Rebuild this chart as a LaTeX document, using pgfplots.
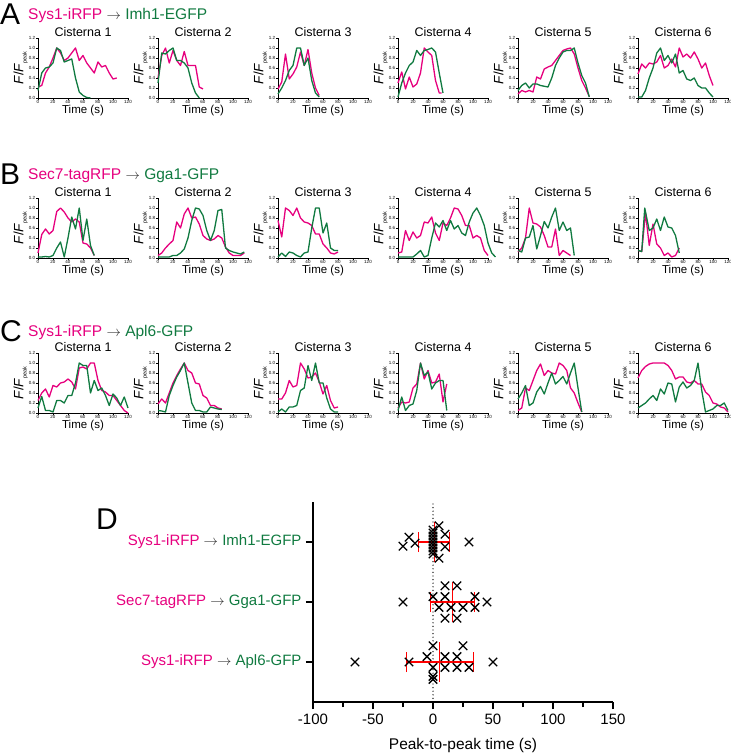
\documentclass[border=0pt]{standalone}
\usepackage{pgfplots}
\pgfplotsset{compat=1.18}
\usepackage{fontspec}
\setmainfont{Liberation Sans}
\definecolor{mag}{RGB}{230,0,126}
\definecolor{grn}{RGB}{16,122,64}
\definecolor{arr}{RGB}{50,50,50}
\newcommand{\fs}[1]{\fontsize{#1}{#1}\selectfont}
\newcommand{\ar}{\textcolor{arr}{$\rightarrow$}}
\pgfplotsset{
 small/.style={
  scale only axis, width=90pt, height=60pt,
  xmin=0, xmax=120, ymin=0, ymax=1.2,
  axis lines=left, axis line style={line width=0.9pt, -},
  xtick={0,20,40,60,80,100,120}, ytick={0,0.2,0.4,0.6,0.8,1.0,1.2},
  tick align=outside, major tick length=1.8pt, tick style={line width=0.5pt, black},
  ticklabel style={font=\fs{4.5}, inner sep=0.8pt},
  yticklabel style={/pgf/number format/.cd, fixed, fixed zerofill, precision=1},
  /pgf/number format/assume math mode=true,
  xlabel={Time (s)},
  every axis x label/.style={at={(rel axis cs:0.5,0)}, anchor=north, yshift=-6.5pt, inner sep=0pt, font=\fs{11.5}},
  ylabel={\textit{F}/\textit{F}\raisebox{-0.45ex}{\fs{5.5}peak}},
  every axis y label/.style={at={(rel axis cs:0,0.5)}, rotate=90, anchor=south, inner sep=0pt, yshift=10pt, font=\fs{13.5}},
  title style={at={(rel axis cs:0.5,1)}, anchor=base, yshift=-5pt, font=\fs{12.5}, inner sep=0pt},
  clip=false, anchor=south west,
 },
 mg/.style={mag, line width=1.3pt, no marks, line join=round},
 gn/.style={grn, line width=1.3pt, no marks, line join=round},
}
\newcommand{\panel}[5]{%
\begin{axis}[small, at={(#1pt,#2pt)}, title={Cisterna #3}]
\addplot[mg] coordinates {#4};
\addplot[gn] coordinates {#5};
\end{axis}}
\begin{document}
\begin{tikzpicture}
\useasboundingbox (0,0) rectangle (731pt,756pt);
% ---------- Row A ----------
\node[anchor=base west, inner sep=0pt, font=\fs{30}] at (0pt,731pt) {A};
\node[anchor=base west, inner sep=0pt, font=\fs{15.5}] at (28pt,736pt) {\textcolor{mag}{Sys1-iRFP} \ar{} \textcolor{grn}{Imh1-EGFP}};
\panel{38}{658}{1}
{(0,0.22)(5,0.25)(10,0.5)(15,0.62)(20,0.8)(25,1.0)(30,0.9)(35,0.75)(40,0.8)(45,0.9)(50,1.0)(55,0.75)(60,0.85)(65,0.7)(70,0.6)(75,0.5)(80,0.72)(85,0.62)(90,0.65)(95,0.5)(100,0.38)(105,0.4)}
{(0,0.15)(5,0.5)(10,0.6)(15,0.62)(20,0.7)(25,1.0)(30,0.95)(35,0.72)(40,0.75)(45,0.78)(50,0.4)(55,0.12)(60,0.05)(65,0.01)(70,0)}
\panel{158}{658}{2}
{(0,0.4)(5,0.85)(10,1.0)(15,0.7)(20,0.95)(25,0.75)(30,0.65)(35,0.93)(40,0.65)(45,0.65)(50,0.65)(55,0.22)(60,0.18)}
{(0,0.3)(5,0.9)(10,0.88)(15,0.95)(20,1.0)(25,0.75)(30,0.75)(35,0.7)(40,0.6)(45,0.3)(50,0.1)(55,0.0)}
\panel{278}{658}{3}
{(0,0.18)(5,0.32)(10,0.88)(15,0.38)(20,0.48)(25,0.62)(30,0.92)(35,0.65)(40,0.97)(45,0.5)(50,0.2)(55,0.05)}
{(0,0.08)(5,0.2)(10,0.35)(15,0.55)(20,0.65)(25,1.0)(30,1.0)(35,0.65)(40,0.8)(45,0.35)(50,0.1)(55,0.02)}
\panel{398}{658}{4}
{(0,0.3)(5,0.52)(10,0.18)(15,0.42)(20,0.22)(25,0.28)(30,0.5)(35,1.0)(40,0.92)(45,0.85)(50,0.35)(55,0.1)(58,0.1)}
{(0,0.02)(5,0.3)(10,0.5)(15,0.65)(20,0.72)(25,0.95)(30,0.85)(35,0.95)(40,0.97)(45,1.0)(50,0.92)(55,0.5)(60,0.1)}
\panel{518}{658}{5}
{(0,0.08)(5,0.15)(10,0.12)(15,0.15)(20,0.12)(25,0.42)(30,0.38)(35,0.58)(40,0.62)(45,0.65)(50,0.75)(55,0.85)(60,0.95)(65,0.98)(70,1.0)(75,0.88)(80,0.6)(85,0.35)(90,0.2)(95,0.03)}
{(0,0.15)(5,0.25)(10,0.3)(15,0.2)(20,0.28)(25,0.28)(30,0.25)(40,0.22)(45,0.4)(50,0.65)(55,0.8)(60,0.92)(65,0.95)(70,0.95)(75,1.0)(80,0.7)(85,0.45)(90,0.3)(95,0.02)}
\panel{638}{658}{6}
{(0,0.48)(5,0.68)(10,0.6)(15,0.7)(20,0.68)(25,0.72)(30,0.85)(35,0.6)(40,0.65)(45,0.78)(50,0.62)(55,1.0)(60,0.82)(65,0.88)(70,0.8)(75,0.92)(80,0.78)(85,0.6)(90,0.7)(95,0.45)(100,0.25)}
{(0,0.02)(5,0.02)(10,0.15)(15,0.4)(20,0.6)(25,0.9)(30,1.0)(35,0.75)(40,0.85)(45,0.7)(50,0.88)(55,0.5)(60,0.55)(65,0.38)(70,0.35)(75,0.4)(80,0.25)(85,0.2)(90,0.2)(95,0.1)(100,0.02)}
% ---------- Row B ----------
\node[anchor=base west, inner sep=0pt, font=\fs{30}] at (0pt,571pt) {B};
\node[anchor=base west, inner sep=0pt, font=\fs{15.5}] at (28pt,576pt) {\textcolor{mag}{Sec7-tagRFP} \ar{} \textcolor{grn}{Gga1-GFP}};
\panel{38}{498}{1}
{(0,0.1)(5,0.47)(10,0.58)(15,0.48)(20,0.55)(25,0.93)(30,1.0)(35,0.92)(40,0.8)(45,0.72)(50,0.78)(55,0.72)(60,0.3)(65,0.28)(70,0.2)(75,0.05)}
{(0,0.02)(5,0.02)(10,0.03)(15,0.02)(20,0.05)(25,0.2)(30,0.32)(35,0.02)(40,0.4)(45,0.82)(50,0.58)(55,1.0)(60,0.35)(65,0.78)(70,0.25)(75,0.05)}
\panel{158}{498}{2}
{(0,0.05)(5,0.1)(10,0.2)(15,0.28)(20,0.35)(25,0.72)(30,0.6)(35,0.88)(40,1.0)(45,0.8)(50,0.82)(55,0.68)(60,0.45)(65,0.38)(70,0.35)(75,0.38)(80,0.45)(85,0.4)(90,0.22)(95,0.1)(100,0.05)(105,0.05)(110,0.05)(115,0.1)}
{(0,0.02)(15,0.02)(20,0.05)(25,0.05)(30,0.1)(35,0.18)(40,0.4)(45,0.75)(50,1.0)(55,0.98)(60,0.85)(65,0.55)(70,0.35)(75,0.55)(80,0.95)(85,0.97)(90,0.2)(95,0.15)(100,0.12)(105,0.1)(110,0.08)(115,0.12)}
\panel{278}{498}{3}
{(0,0.75)(5,0.42)(10,1.0)(15,0.95)(20,0.85)(25,1.0)(30,0.8)(35,0.72)(40,0.7)(45,0.65)(50,0.48)(55,0.48)(60,0.28)(65,0.2)(70,0.1)(75,0.08)(80,0.12)}
{(0,0.02)(5,0.1)(10,0.03)(15,0.12)(20,0.1)(25,0.05)(30,0.02)(35,0.1)(40,0.12)(45,0.6)(50,1.0)(55,1.0)(60,0.5)(65,0.7)(70,0.2)(75,0.15)(80,0.15)}
\panel{398}{498}{4}
{(0,0.1)(5,0.12)(10,0.55)(15,0.35)(20,0.52)(25,0.4)(30,0.45)(35,0.72)(40,0.7)(45,0.82)(50,0.5)(55,0.35)(60,0.7)(65,0.65)(70,0.8)(75,1.0)(80,0.98)(85,0.85)(90,0.65)(95,0.65)(100,0.4)(105,0.45)(110,0.4)(115,0.15)(120,0.05)}
{(0,0.02)(20,0.02)(25,0.08)(30,0.15)(35,0.02)(40,0.05)(45,0.4)(50,0.7)(55,0.62)(60,0.75)(65,0.55)(70,0.75)(75,0.58)(80,0.65)(85,0.5)(90,0.45)(95,0.72)(100,0.9)(105,1.0)(110,0.85)(115,0.65)(120,0.3)(125,0.1)(130,0.02)}
\panel{518}{498}{5}
{(0,0.12)(5,0.2)(10,0.4)(15,1.0)(20,0.7)(25,0.68)(30,0.62)(35,0.45)(40,0.22)(45,0.22)(50,0.58)(55,0.05)(60,0.15)(65,0.1)(70,0.05)}
{(0,0.15)(5,0.12)(10,0.4)(15,0.42)(20,0.65)(25,0.18)(30,0.45)(35,0.73)(40,0.6)(45,0.82)(50,1.0)(55,0.55)(60,0.72)(65,0.55)(70,0.6)(75,0.05)}
\panel{638}{498}{6}
{(0,0.15)(5,0.13)(10,0.9)(15,0.25)(20,0.68)(25,0.28)(30,0.2)(35,0.05)(40,0.1)(45,0.02)(50,0.05)(55,0.2)}
{(0,0.15)(5,0.13)(9,1.0)(15,0.55)(20,0.6)(25,0.78)(30,0.55)(35,0.82)(40,0.62)(45,0.6)(50,0.45)(55,0.1)}
% ---------- Row C ----------
\node[anchor=base west, inner sep=0pt, font=\fs{30}] at (0pt,414pt) {C};
\node[anchor=base west, inner sep=0pt, font=\fs{15.5}] at (28pt,419pt) {\textcolor{mag}{Sys1-iRFP} \ar{} \textcolor{grn}{Apl6-GFP}};
\panel{38}{343}{1}
{(0,0.25)(5,0.4)(10,0.48)(15,0.32)(20,0.55)(25,0.52)(30,0.6)(35,0.62)(40,0.68)(45,0.62)(50,0.48)(55,0.9)(60,0.92)(65,0.88)(70,1.0)(75,1.0)(80,0.65)(85,0.45)(90,0.42)(95,0.35)(100,0.35)(105,0.25)(110,0.15)(115,0.05)(120,0.0)}
{(0,0.1)(5,0.33)(10,0.05)(15,0.05)(20,0.02)(25,0.25)(30,0.25)(35,0.2)(40,0.35)(45,0.35)(50,0.6)(55,1.0)(60,0.95)(65,0.95)(70,0.4)(75,0.65)(80,0.45)(85,0.5)(90,0.35)(95,0.15)(100,0.38)(105,0.3)(110,0.15)(115,0.32)(120,0.1)}
\panel{158}{343}{2}
{(0,0.18)(5,0.28)(10,0.2)(15,0.4)(20,0.6)(25,0.75)(30,0.88)(35,1.0)(40,0.85)(45,0.8)(50,0.6)(55,0.58)(60,0.35)(65,0.3)(70,0.15)(75,0.15)(80,0.1)(85,0.08)}
{(0,0.05)(5,0.04)(10,0.02)(15,0.35)(20,0.55)(25,0.72)(30,0.85)(35,1.0)(40,0.6)(45,0.2)(50,0.05)(55,0.05)(60,0.02)(65,0.02)(70,0.12)(75,0.1)(80,0.08)(85,0.07)}
\panel{278}{343}{3}
{(0,0.28)(5,0.28)(10,0.4)(15,0.65)(20,0.52)(25,0.55)(30,1.0)(35,0.88)(40,0.7)(45,0.72)(50,0.8)(55,0.62)(60,0.38)(65,0.55)(70,0.25)(75,0.1)(80,0.12)}
{(0,0.02)(5,0.08)(10,0.02)(15,0.12)(20,0.12)(25,0.15)(30,0.45)(35,0.5)(40,0.95)(45,0.65)(50,1.0)(55,0.6)(60,0.6)(65,0.3)(70,0.08)(75,0.02)(80,0.02)}
\panel{398}{343}{4}
{(0,0.1)(5,0.22)(10,0.2)(15,0.22)(20,0.5)(25,0.58)(30,1.0)(35,0.68)(40,0.85)(45,0.6)(50,0.62)(55,0.78)(60,0.22)(65,0.58)}
{(0,0.05)(5,0.32)(10,0.05)(15,0.15)(20,0.18)(25,0.45)(30,1.0)(35,0.75)(40,0.82)(45,0.48)(50,0.6)(55,0.65)(60,0.65)(65,0.05)}
\panel{518}{343}{5}
{(0,0.05)(5,0.1)(10,0.5)(15,0.45)(20,0.65)(25,0.85)(30,0.98)(35,0.75)(40,0.85)(45,0.8)(50,0.78)(55,1.0)(60,0.95)(65,0.85)(70,0.5)(75,0.4)(80,0.2)(85,0.02)}
{(0,0.28)(5,0.4)(10,0.55)(15,0.15)(20,0.2)(25,0.42)(30,0.53)(35,0.38)(40,0.6)(45,0.8)(50,0.58)(55,0.65)(60,0.73)(65,0.58)(70,0.8)(75,1.0)(80,0.5)(85,0.02)}
\panel{638}{343}{6}
{(0,0.7)(5,0.85)(10,0.93)(15,0.98)(20,1.0)(25,1.0)(30,1.0)(35,1.0)(40,0.95)(45,0.85)(50,0.68)(55,0.72)(60,0.72)(65,0.62)(70,0.6)(75,0.65)(80,0.58)(85,0.58)(90,0.42)(95,0.35)(100,0.2)(105,0.18)(110,0.12)(115,0.1)(120,0.02)}
{(0,0.1)(5,0.15)(10,0.2)(15,0.28)(20,0.35)(25,0.25)(30,0.48)(35,0.38)(40,0.6)(45,0.58)(50,0.22)(55,0.52)(60,0.62)(65,0.5)(70,0.55)(75,0.65)(80,1.0)(85,0.45)(90,0.02)(95,0.05)(100,0.08)(105,0.15)(110,0.15)(115,0.2)(120,0.05)}
% ---------- Panel D ----------
\node[anchor=base west, inner sep=0pt, font=\fs{30}] at (96pt,226pt) {D};
\begin{axis}[
  at={(313pt,54pt)}, anchor=south west, scale only axis, width=300pt, height=200pt,
  xmin=-100, xmax=150, ymin=0.3333, ymax=3.6667,
  axis lines=left, axis line style={line width=1.3pt, -},
  xtick={-100,-50,0,50,100,150}, xticklabels={-100,-50,0,50,100,150},
  minor xtick={-75,-25,25,75,125},
  ytick={1,2,3},
  yticklabels={
    {\textcolor{mag}{Sys1-iRFP} \ar{} \textcolor{grn}{Apl6-GFP}},
    {\textcolor{mag}{Sec7-tagRFP} \ar{} \textcolor{grn}{Gga1-GFP}},
    {\textcolor{mag}{Sys1-iRFP} \ar{} \textcolor{grn}{Imh1-EGFP}}},
  tick align=outside, major tick length=7pt, minor tick length=5pt,
  tick style={line width=1.3pt, black},
  ticklabel style={font=\fs{15}},
  xticklabel style={yshift=-1pt},
  yticklabel style={xshift=-1pt},
  xlabel={Peak-to-peak time (s)},
  xlabel style={font=\fs{15.5}, yshift=-7pt},
  clip=false,
]
\addplot[black, line width=1.4pt, line cap=round, dash pattern=on 0pt off 3.6pt] coordinates {(0,0.3333)(0,3.6667)};
% marks
\addplot[only marks, mark=x, mark size=6pt, mark options={line width=1.3pt, black}] coordinates {
 (-25,2.93)(-20,3.08)(-15,2.98)(30,3.0)(5,3.27)(10,3.13)(10,2.92)(5,2.73)
 (0,3.2)(0,3.15)(0,3.1)(0,3.05)(0,3.0)(0,2.95)(0,2.9)(0,2.85)(0,2.8)
 (-25,2.0)(0,2.09)(10,2.27)(20,2.27)(10,2.09)(5,1.91)(15,1.91)(25,1.91)(35,2.09)(35,1.91)(45,2.0)(10,1.73)(20,1.73)
 (-65,1.0)(-20,1.0)(50,1.0)(0,1.27)(25,1.27)(-5,1.09)(10,1.09)(20,1.09)(0,0.91)(10,0.91)(20,0.91)(30,0.91)(0,0.76)(0,0.71)
};
% mean +- SD (red)
\addplot[red, line width=1.3pt] coordinates {(-12,3)(14,3)};
\addplot[red, line width=1.3pt] coordinates {(-12,2.833)(-12,3.167)};
\addplot[red, line width=1.3pt] coordinates {(14,2.833)(14,3.167)};
\addplot[red, line width=1.3pt] coordinates {(1,2.667)(1,3.333)};
\addplot[red, line width=1.3pt] coordinates {(-2,2)(34.4,2)};
\addplot[red, line width=1.3pt] coordinates {(-2,1.833)(-2,2.167)};
\addplot[red, line width=1.3pt] coordinates {(34.4,1.833)(34.4,2.167)};
\addplot[red, line width=1.3pt] coordinates {(16.4,1.667)(16.4,2.333)};
\addplot[red, line width=1.3pt] coordinates {(-22,1)(33.6,1)};
\addplot[red, line width=1.3pt] coordinates {(-22,0.833)(-22,1.167)};
\addplot[red, line width=1.3pt] coordinates {(33.6,0.833)(33.6,1.167)};
\addplot[red, line width=1.3pt] coordinates {(5.6,0.667)(5.6,1.333)};
\end{axis}
\end{tikzpicture}
\end{document}
